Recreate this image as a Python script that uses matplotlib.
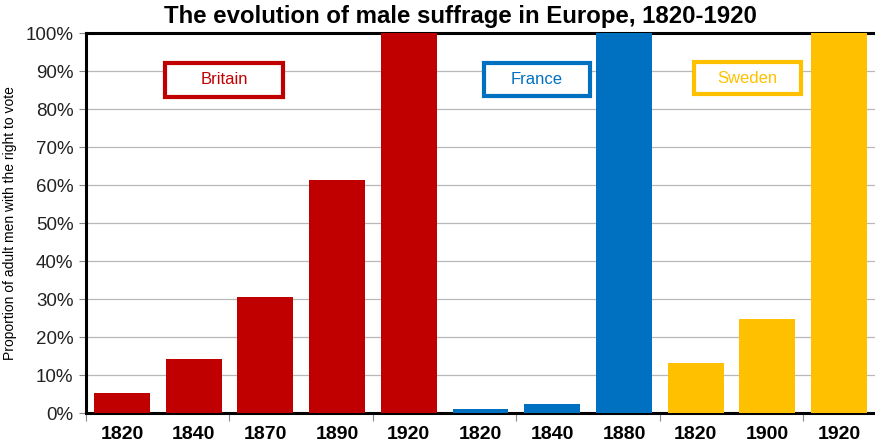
import numpy as np
import matplotlib.pyplot as plt
from matplotlib.patches import Rectangle
from matplotlib.ticker import FixedLocator, FuncFormatter

plt.rcParams['font.family'] = ['Liberation Sans', 'DejaVu Sans']

# data
years = ['1820', '1840', '1870', '1890', '1920',
         '1820', '1840', '1880',
         '1820', '1900', '1920']
shares = [5.3, 14.2, 30.5, 61.3, 100.0,
          1.0, 2.4, 100.0,
          13.2, 24.7, 100.0]
countries = ['Britain'] * 5 + ['France'] * 3 + ['Sweden'] * 3
colours = {'Britain': '#C00000', 'France': '#0070C0', 'Sweden': '#FFC000'}

fig = plt.figure(figsize=(8.75, 4.45), dpi=100)
ax = fig.add_axes([0.0983, 0.0719, 0.9017, 0.8539])

x = np.arange(len(years))
ax.bar(x, shares, width=0.78, color=[colours[c] for c in countries], zorder=3)

ax.set_xlim(-0.5, len(years) - 0.5)
ax.set_ylim(0, 100)
ax.set_yticks(np.arange(0, 101, 10))
ax.yaxis.set_major_formatter(FuncFormatter(lambda v, p: '%d%%' % v))
ax.yaxis.grid(True, color='#b8b8b8', lw=0.9, zorder=0)
ax.tick_params(axis='y', labelsize=13.5, length=5, width=0.8, color='#888888',
               labelcolor='#222222', pad=4)

ax.set_xticks(x)
ax.set_xticklabels(years, fontsize=14, fontweight='bold')
ax.tick_params(axis='x', which='major', length=0, pad=9)
ax.xaxis.set_minor_locator(FixedLocator(np.arange(-0.5, len(years), 2)))
ax.tick_params(axis='x', which='minor', length=6, width=0.8, color='#888888')

for s in ['left', 'bottom', 'top']:
    ax.spines[s].set_linewidth(2.2)
    ax.spines[s].set_color('black')
ax.spines['right'].set_visible(False)

ax.set_ylabel('Proportion of adult men with the right to vote', fontsize=10, labelpad=6)
fig.text(0.526, 0.962, 'The evolution of male suffrage in Europe, 1820-1920',
         ha='center', va='center', fontsize=17.3, fontweight='bold')

# country labels in boxes: (x0, x1, y0, y1)
boxes = {'Britain': (0.60, 2.25, 83.2, 92.1),
         'France': (5.05, 6.52, 83.4, 92.1),
         'Sweden': (7.97, 9.47, 83.9, 92.4)}
for name, (x0, x1, y0, y1) in boxes.items():
    ax.add_patch(Rectangle((x0, y0), x1 - x0, y1 - y0, fc='white',
                           ec=colours[name], lw=3, zorder=5))
    ax.text((x0 + x1) / 2, (y0 + y1) / 2, name, color=colours[name], fontsize=12,
            ha='center', va='center', zorder=6)

fig.savefig('out.png', dpi=100)
